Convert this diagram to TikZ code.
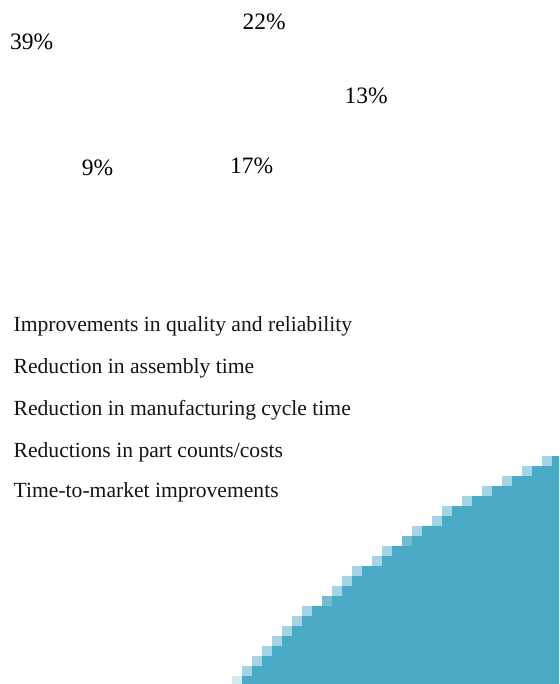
\documentclass[tikz,border=0pt]{standalone}
\usepackage{fontspec}
\setmainfont{Liberation Serif}
\definecolor{tealdark}{RGB}{75,170,197}
\definecolor{teallight}{RGB}{166,212,226}
\definecolor{tealpale}{RGB}{210,234,241}
\definecolor{tealmid}{RGB}{117,187,208}
\tikzset{
  pct/.style={anchor=base west, inner sep=0pt, font=\fontsize{23.5}{28}\selectfont},
  legtext/.style={anchor=base west, inner sep=0pt, font=\fontsize{21.6}{26}\selectfont, text=black!92}
}
\begin{document}
\begin{tikzpicture}[x=1pt,y=-1pt]
\useasboundingbox (0,0) rectangle (559,684);
% percentages
\node[pct] (p39) at (10,49.3) {39\%};
\node[pct] (p22) at (242.3,29.3) {22\%};
\node[pct] (p13) at (344.3,104) {13\%};
\node[pct] (p9)  at (81.7,176) {9\%};
\node[pct] (p17) at (230,174) {17\%};
% legend texts
\node[legtext] (l1) at (13.5,331) {Improvements in quality and reliability};
\node[legtext] (l2) at (13.5,373) {Reduction in assembly time};
\node[legtext] (l3) at (13.5,415) {Reduction in manufacturing cycle time};
\node[legtext] (l4) at (13.5,457) {Reductions in part counts/costs};
\node[legtext] (l5) at (13.5,497) {Time-to-market improvements};
% staircase wedge
\foreach \L [count=\k from 0] in {231.7,241.7,251.7,261.7,271.7,281.7,291.7,301.7,321.7,331.7,341.7,351.7,371.7,381.7,401.7,411.7,431.7,441.7,461.7,481.7,501.7,521.7,541.7} {
  \pgfmathsetmacro\yt{675.7-10*\k}
  \pgfmathsetmacro\yb{\k==0 ? 684 : 686-10*\k}
  \fill[tealdark] (\L+9.8,\yb) rectangle (559,\yt);
  \ifnum\k=0
    \fill[tealpale] (\L,\yb) rectangle (\L+10,\yt);
  \else\ifnum\k=8
    \fill[tealmid] (\L,\yb) rectangle (\L+10,\yt);
  \else\ifnum\k=14
    \fill[tealmid] (\L,\yb) rectangle (\L+10,\yt);
  \else
    \fill[teallight] (\L,\yb) rectangle (\L+10,\yt);
  \fi\fi\fi
}
\end{tikzpicture}
\end{document}
